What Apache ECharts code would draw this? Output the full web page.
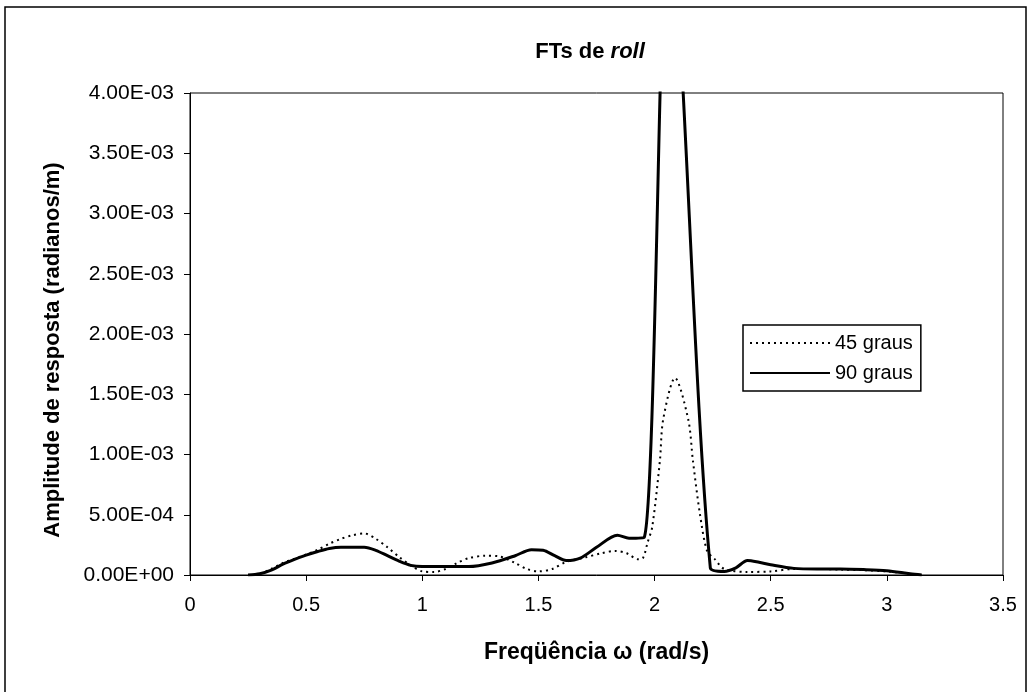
<!DOCTYPE html>
<html>
<head>
    <meta charset="UTF-8">
    <title>FTs de roll</title>
    <script type="text/javascript" src="https://cdn.jsdelivr.net/npm/echarts@6/dist/echarts.min.js"></script>
</head>
<body style="margin: 0;padding: 0;background: #fff;">
    <div id="container" style="width:1032px; height:692px;"></div>
    <script>
        // 90 graus (linha cheia)
        var freq90 = [0.25, 0.30, 0.35, 0.40, 0.45, 0.50, 0.55, 0.60, 0.65, 0.70, 0.75, 0.80, 0.85, 0.90, 0.95, 1.00,
            1.10, 1.20, 1.30, 1.40, 1.47, 1.52, 1.57, 1.62, 1.68, 1.75, 1.84, 1.89, 1.955, 2.06, 2.10, 2.24,
            2.30, 2.35, 2.40, 2.45, 2.50, 2.60, 2.70, 2.80, 2.90, 3.00, 3.10, 3.15];
        var amp90 = [0.0, 0.1e-4, 0.4e-4, 0.9e-4, 1.3e-4, 1.65e-4, 1.95e-4, 2.2e-4, 2.3e-4, 2.3e-4, 2.3e-4, 2.05e-4, 1.6e-4, 1.15e-4, 0.8e-4, 0.7e-4,
            0.7e-4, 0.7e-4, 1.0e-4, 1.6e-4, 2.1e-4, 2.05e-4, 1.6e-4, 1.2e-4, 1.4e-4, 2.3e-4, 3.3e-4, 3.05e-4, 3.1e-4, 5.6e-3, 4.8e-3, 0.6e-4,
            0.3e-4, 0.6e-4, 1.2e-4, 1.05e-4, 0.85e-4, 0.55e-4, 0.5e-4, 0.5e-4, 0.45e-4, 0.35e-4, 0.1e-4, 0.0];

        // 45 graus (pontilhado)
        var freq45 = [0.25, 0.30, 0.35, 0.40, 0.45, 0.50, 0.55, 0.60, 0.65, 0.70, 0.75, 0.80, 0.85, 0.90, 0.95, 1.00,
            1.05, 1.10, 1.15, 1.20, 1.27, 1.33, 1.40, 1.45, 1.50, 1.56, 1.62, 1.70, 1.77, 1.83, 1.88, 1.93,
            1.95, 1.97, 1.99, 2.023, 2.037, 2.088, 2.145, 2.165, 2.195, 2.226, 2.26, 2.30, 2.40, 2.50,
            2.60, 2.70, 2.80, 2.90, 3.00, 3.10, 3.15];
        var amp45 = [0.0, 0.1e-4, 0.5e-4, 1.0e-4, 1.35e-4, 1.7e-4, 2.1e-4, 2.6e-4, 3.0e-4, 3.3e-4, 3.45e-4, 3.0e-4, 2.3e-4, 1.5e-4, 0.8e-4, 0.3e-4,
            0.25e-4, 0.5e-4, 1.0e-4, 1.4e-4, 1.6e-4, 1.55e-4, 1.0e-4, 0.5e-4, 0.3e-4, 0.5e-4, 1.1e-4, 1.45e-4, 1.8e-4, 2.0e-4, 1.8e-4, 1.3e-4,
            1.4e-4, 2.7e-4, 4.0e-4, 0.95e-3, 1.29e-3, 1.635e-3, 1.29e-3, 0.95e-3, 0.51e-3, 2.0e-4, 1.3e-4, 0.5e-4, 0.25e-4, 0.3e-4,
            0.5e-4, 0.5e-4, 0.45e-4, 0.4e-4, 0.3e-4, 0.1e-4, 0.0];

        var seriesNames = ['45 graus', '90 graus'];

        function pairs(xs, ys) {
            return xs.map(function (x, i) { return [x, ys[i]]; });
        }

        // formato do Excel: 4.00E-03
        function sci(v) {
            if (v === 0) return '0.00E+00';
            var e = Math.floor(Math.log10(Math.abs(v)) + 1e-9);
            var m = v / Math.pow(10, e);
            var s = e < 0 ? '-' : '+';
            var ae = Math.abs(e);
            return m.toFixed(2) + 'E' + s + (ae < 10 ? '0' + ae : ae);
        }

        var font = 'Liberation Sans, Arial, sans-serif';

        var chart = echarts.init(document.getElementById('container'), null, { renderer: 'canvas' });

        var option = {
            backgroundColor: '#fff',
            animation: false,
            title: {
                text: '{a|FTs de }{b|roll}',
                left: 585,
                textAlign: 'center',
                top: 36,
                textStyle: {
                    rich: {
                        a: { fontFamily: font, fontWeight: 'bold', fontSize: 22, color: '#000' },
                        b: { fontFamily: font, fontWeight: 'bold', fontStyle: 'italic', fontSize: 22, color: '#000' }
                    }
                }
            },
            graphic: [{
                type: 'rect',
                shape: { x: 5, y: 7, width: 1021, height: 700 },
                style: { fill: 'none', stroke: '#000', lineWidth: 1.5 },
                silent: true
            }],
            legend: {
                orient: 'vertical',
                left: 743,
                top: 325,
                width: 188,
                padding: [8, 8, 8, 6],
                itemGap: 10,
                itemWidth: 80,
                itemHeight: 12,
                borderColor: '#000',
                borderWidth: 1.5,
                data: seriesNames,
                itemStyle: { opacity: 0 },
                textStyle: { fontFamily: font, fontSize: 20, color: '#000' }
            },
            grid: {
                left: 190,
                right: 29,
                top: 93,
                bottom: 117,
                show: true,
                borderColor: '#000',
                borderWidth: 1
            },
            xAxis: {
                type: 'value',
                min: 0,
                max: 3.5,
                interval: 0.5,
                name: 'Freqüência ω (rad/s)',
                nameLocation: 'middle',
                nameGap: 66,
                nameTextStyle: { fontFamily: font, fontWeight: 'bold', fontSize: 23, color: '#000' },
                axisLine: { lineStyle: { color: '#000', width: 1 } },
                axisTick: { length: 6, lineStyle: { color: '#000' } },
                splitLine: { show: false },
                axisLabel: { fontFamily: font, fontSize: 20, color: '#000', margin: 20 }
            },
            yAxis: {
                type: 'value',
                min: 0,
                max: 4e-3,
                interval: 5e-4,
                name: 'Amplitude de resposta (radianos/m)',
                nameLocation: 'middle',
                nameGap: 126,
                nameTextStyle: { fontFamily: font, fontWeight: 'bold', fontSize: 22, color: '#000', padding: [0, 32, 0, 0] },
                axisLine: { show: true, lineStyle: { color: '#000', width: 1 } },
                axisTick: { show: true, length: 6, lineStyle: { color: '#000' } },
                splitLine: { show: false },
                axisLabel: { fontFamily: font, fontSize: 21, color: '#000', margin: 16, formatter: sci }
            },
            series: [{
                name: seriesNames[0],
                type: 'line',
                data: pairs(freq45, amp45),
                smooth: 0.3,
                showSymbol: false,
                symbol: 'none',
                color: '#000',
                lineStyle: { color: '#000', width: 2, type: [2, 4] },
                z: 3
            }, {
                name: seriesNames[1],
                type: 'line',
                data: pairs(freq90, amp90),
                smooth: 0.3,
                showSymbol: false,
                symbol: 'none',
                color: '#000',
                lineStyle: { color: '#000', width: 3 },
                z: 4
            }]
        };
        chart.setOption(option);
    </script>
</body>
</html>
